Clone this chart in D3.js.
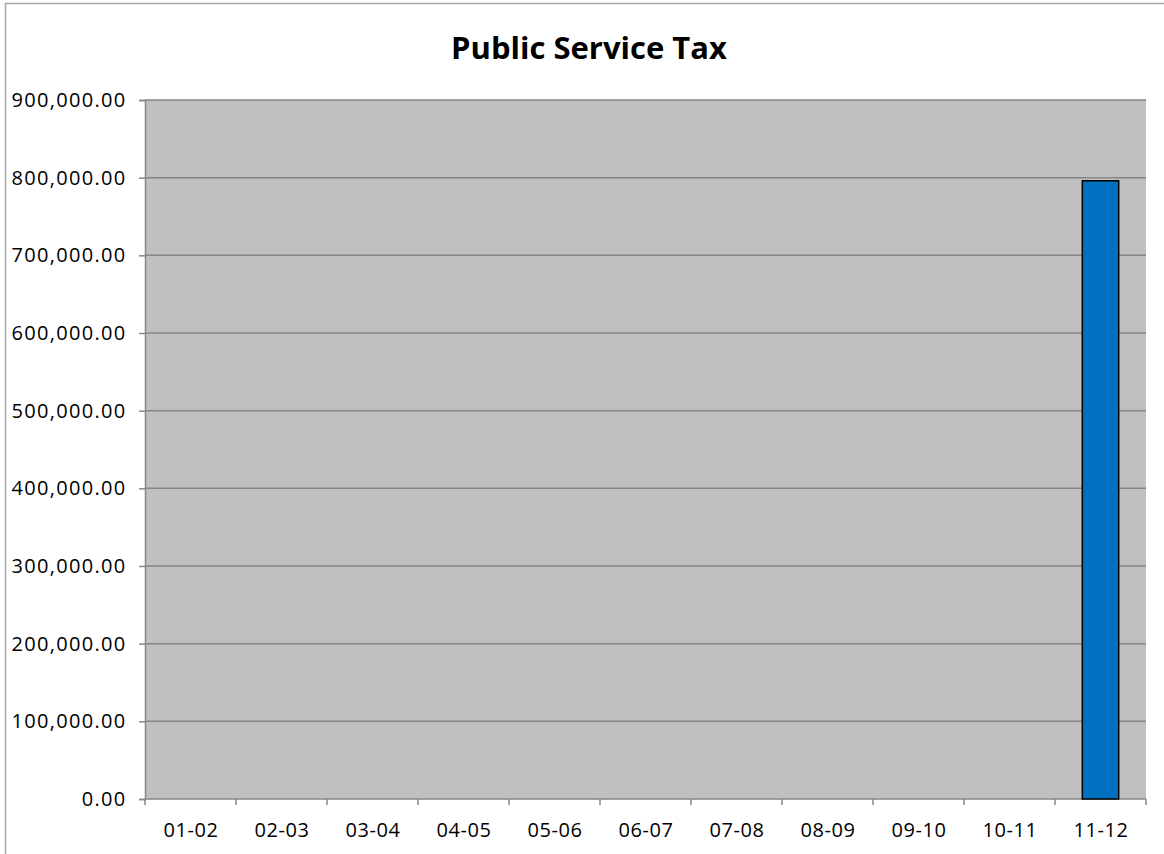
<!DOCTYPE html>
<html>
<head>
<meta charset="utf-8">
<script src="https://cdn.jsdelivr.net/npm/d3@7.9.0/dist/d3.min.js"></script>
<style>
  body { margin: 0; background: #fff; }
  svg text { font-family: "Open Sans", "Liberation Sans", sans-serif; fill: #000; }
</style>
</head>
<body>
<svg id="chart" width="1164" height="854"></svg>
<script>
// fiscal years and collected tax
const years = ['01-02', '02-03', '03-04', '04-05', '05-06', '06-07', '07-08', '08-09', '09-10', '10-11', '11-12'];
const values = [0, 0, 0, 0, 0, 0, 0, 0, 0, 0, 796000];
const yTicks = [0, 100000, 200000, 300000, 400000, 500000, 600000, 700000, 800000, 900000];

const svg = d3.select('#chart');
const plot = { left: 145, top: 100, right: 1146, bottom: 799 };

// outer chart border (cut off on right/bottom like the source)
svg.append('rect')
  .attr('x', 5.5).attr('y', 3.5)
  .attr('width', 1200).attr('height', 900)
  .attr('fill', '#fff')
  .attr('stroke', '#a6a6a6')
  .attr('stroke-width', 1.5);

svg.append('text')
  .attr('x', 589).attr('y', 59)
  .attr('text-anchor', 'middle')
  .attr('font-size', 31)
  .attr('font-weight', 'bold')
  .text('Public Service Tax');

const x = d3.scaleBand().domain(years).range([plot.left, plot.right]).paddingInner(0.6).paddingOuter(0.3);
const xb = d3.scaleBand().domain(years).range([plot.left, plot.right]);
const y = d3.scaleLinear().domain([0, 900000]).range([plot.bottom, plot.top]);

svg.append('rect')
  .attr('x', plot.left).attr('y', plot.top)
  .attr('width', plot.right - plot.left).attr('height', plot.bottom - plot.top)
  .attr('fill', '#c0c0c0');

// gridlines
svg.append('g')
  .selectAll('line')
  .data(yTicks.filter(d => d > 0))
  .join('line')
  .attr('x1', plot.left).attr('x2', plot.right)
  .attr('y1', d => y(d)).attr('y2', d => y(d))
  .attr('stroke', '#868686').attr('stroke-width', 1.5);

// y axis
const fmt = d3.format(',.2f');
const yAxis = svg.append('g')
  .attr('transform', `translate(${plot.left},0)`)
  .call(d3.axisLeft(y).tickValues(yTicks).tickFormat(fmt).tickSize(6).tickPadding(12.5));
yAxis.select('.domain').attr('stroke', '#868686').attr('stroke-width', 1.5);
yAxis.selectAll('line').attr('stroke', '#868686').attr('stroke-width', 1.5);
yAxis.selectAll('text')
  .attr('font-size', 20)
  .attr('letter-spacing', 1.3)
  .style('font-family', '"Open Sans", sans-serif');

// x axis: ticks sit between categories
const bounds = years.map(d => xb(d)).concat([plot.right]);
svg.append('line')
  .attr('x1', plot.left).attr('x2', plot.right)
  .attr('y1', plot.bottom).attr('y2', plot.bottom)
  .attr('stroke', '#868686').attr('stroke-width', 1.5);
svg.append('g')
  .selectAll('line')
  .data(bounds)
  .join('line')
  .attr('x1', d => d).attr('x2', d => d)
  .attr('y1', plot.bottom).attr('y2', plot.bottom + 6)
  .attr('stroke', '#868686').attr('stroke-width', 1.5);
svg.append('g')
  .selectAll('text')
  .data(years)
  .join('text')
  .attr('x', d => xb(d) + xb.bandwidth() / 2 + 0.5)
  .attr('y', 837)
  .attr('text-anchor', 'middle')
  .attr('font-size', 20)
  .attr('letter-spacing', 0.6)
  .text(d => d);

// bars
svg.append('g')
  .selectAll('rect')
  .data(years.map((d, i) => ({ year: d, value: values[i] })).filter(d => d.value > 0))
  .join('rect')
  .attr('x', d => x(d.year))
  .attr('y', d => y(d.value))
  .attr('width', x.bandwidth())
  .attr('height', d => y(0) - y(d.value))
  .attr('fill', '#0070c0')
  .attr('stroke', '#000')
  .attr('stroke-width', 1.5);
</script>
</body>
</html>
